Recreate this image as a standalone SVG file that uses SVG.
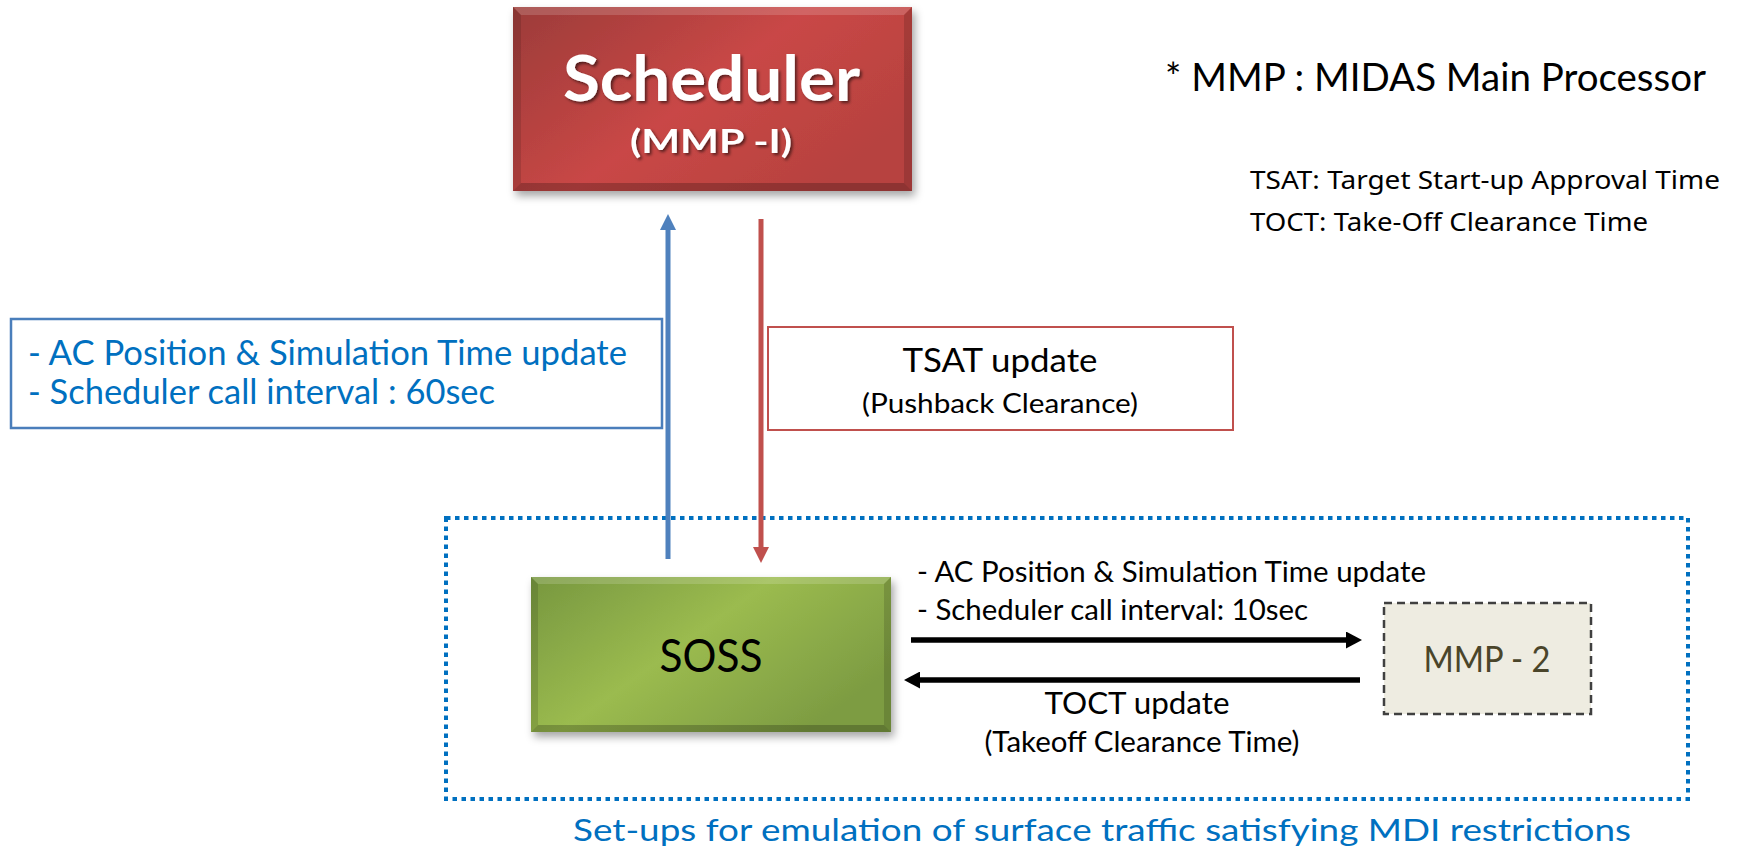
<svg xmlns="http://www.w3.org/2000/svg" width="1737" height="855" viewBox="0 0 1737 855">
<style>
.gill{font-family:Lato,"Open Sans","Liberation Sans",sans-serif;}
.malg{font-family:"Noto Sans","Open Sans","Liberation Sans",sans-serif;fill:#000;font-size:25px;}
.blue{fill:#0070C0;}
.mid{text-anchor:middle;}
.bev-t{fill:#fff;fill-opacity:0.16;}
.bev-l{fill:#000;fill-opacity:0.12;}
.bev-r{fill:#000;fill-opacity:0.14;}
.bev-b{fill:#000;fill-opacity:0.22;}
</style>
<defs>
<linearGradient id="gRed" x1="0" y1="0" x2="1" y2="0.6">
<stop offset="0" stop-color="#9c3c39"/>
<stop offset="0.55" stop-color="#c94746"/>
<stop offset="1" stop-color="#b7423f"/>
</linearGradient>
<linearGradient id="gGreen" x1="0" y1="0" x2="1" y2="0.6">
<stop offset="0" stop-color="#77973f"/>
<stop offset="0.5" stop-color="#9bbb4f"/>
<stop offset="1" stop-color="#7d9c42"/>
</linearGradient>
<filter id="shadow" x="-10%" y="-10%" width="125%" height="140%">
<feDropShadow dx="3" dy="5" stdDeviation="4" flood-color="#000" flood-opacity="0.35"/>
</filter>
<filter id="tshadow" x="-10%" y="-20%" width="120%" height="150%">
<feDropShadow dx="2" dy="2" stdDeviation="1.5" flood-color="#000" flood-opacity="0.55"/>
</filter>
<marker id="aBlue" markerUnits="userSpaceOnUse" markerWidth="16" markerHeight="16" refX="2" refY="8" orient="auto">
<path d="M0,0 L16,8 L0,16 z" fill="#4F81BD"/>
</marker>
<marker id="aRed" markerUnits="userSpaceOnUse" markerWidth="16" markerHeight="16" refX="2" refY="8" orient="auto">
<path d="M0,0 L16,8 L0,16 z" fill="#C0504D"/>
</marker>
<marker id="aBlack" markerUnits="userSpaceOnUse" markerWidth="16" markerHeight="17" refX="2" refY="8.5" orient="auto">
<path d="M0,0 L16,8.5 L0,17 z" fill="#000"/>
</marker>
</defs>
<rect width="1737" height="855" fill="#fff"/>

<g id="setup-frame">
<rect x="446" y="518" width="1242" height="281" fill="none" stroke="#0070C0" stroke-width="4" stroke-dasharray="4.5 4.5"/>
<text class="gill blue" x="573" y="841" font-size="31" textLength="1058" lengthAdjust="spacingAndGlyphs">Set-ups for emulation of surface traffic satisfying MDI restrictions</text>
</g>

<g id="scheduler">
<g filter="url(#shadow)">
<rect x="513" y="7" width="399" height="184" fill="url(#gRed)"/>
</g>
<polygon class="bev-t" points="513,7 912,7 904,15 521,15"/>
<polygon class="bev-l" points="513,7 521,15 521,183 513,191"/>
<polygon class="bev-r" points="912,7 912,191 904,183 904,15"/>
<polygon class="bev-b" points="513,191 521,183 904,183 912,191"/>
<g filter="url(#tshadow)">
<text class="gill mid" x="711.5" y="101" font-size="63" font-weight="700" fill="#fff" textLength="297" lengthAdjust="spacingAndGlyphs">Scheduler</text>
<text class="gill mid" x="711" y="153" font-size="32" font-weight="700" fill="#fff" textLength="162" lengthAdjust="spacingAndGlyphs">(MMP -I)</text>
</g>
</g>

<g id="legend">
<text class="gill" x="1165" y="91" font-size="38" fill="#000" textLength="541" lengthAdjust="spacingAndGlyphs">* MMP : MIDAS Main Processor</text>
<text class="malg" x="1250" y="189" textLength="470" lengthAdjust="spacingAndGlyphs">TSAT: Target Start-up Approval Time</text>
<text class="malg" x="1250" y="231" textLength="398" lengthAdjust="spacingAndGlyphs">TOCT: Take-Off Clearance Time</text>
</g>

<g id="label-up">
<rect x="11" y="319" width="651" height="109" fill="#fff" stroke="#4a7ebb" stroke-width="2.5"/>
<text class="gill blue" x="28" y="365" font-size="35" textLength="599" lengthAdjust="spacingAndGlyphs">- AC Position &amp; Simulation Time update</text>
<text class="gill blue" x="28" y="404" font-size="35" textLength="467" lengthAdjust="spacingAndGlyphs">- Scheduler call interval : 60sec</text>
</g>

<g id="label-down">
<rect x="768" y="327" width="465" height="103" fill="#fff" stroke="#C0504D" stroke-width="2"/>
<text class="gill mid" x="1000" y="372" font-size="33" fill="#000" textLength="195" lengthAdjust="spacingAndGlyphs">TSAT update</text>
<text class="gill mid" x="1000" y="413" font-size="27" fill="#000" textLength="276" lengthAdjust="spacingAndGlyphs">(Pushback Clearance)</text>
</g>

<g id="soss">
<g filter="url(#shadow)">
<rect x="531" y="577" width="360" height="155" fill="url(#gGreen)"/>
</g>
<polygon class="bev-t" points="531,577 891,577 884,584 538,584"/>
<polygon class="bev-l" points="531,577 538,584 538,725 531,732"/>
<polygon class="bev-r" points="891,577 891,732 884,725 884,584"/>
<polygon class="bev-b" points="531,732 538,725 884,725 891,732"/>
<text class="gill mid" x="711" y="672" font-size="46" fill="#000" textLength="103" lengthAdjust="spacingAndGlyphs">SOSS</text>
</g>

<g id="mmp2">
<rect x="1384" y="603" width="207" height="111" fill="#EEECE1" stroke="#404040" stroke-width="2.5" stroke-dasharray="8 5"/>
<text class="gill mid" x="1487" y="672" font-size="37" fill="#4a452a" textLength="127" lengthAdjust="spacingAndGlyphs">MMP - 2</text>
</g>

<g id="arrow-labels">
<text class="gill" x="917" y="582" font-size="28" fill="#000" textLength="509" lengthAdjust="spacingAndGlyphs">- AC Position &amp; Simulation Time update</text>
<text class="gill" x="917" y="620" font-size="28" fill="#000" textLength="391" lengthAdjust="spacingAndGlyphs">- Scheduler call interval: 10sec</text>
<text class="gill mid" x="1137" y="714" font-size="30" fill="#000" textLength="185" lengthAdjust="spacingAndGlyphs">TOCT update</text>
<text class="gill mid" x="1142" y="752" font-size="29" fill="#000" textLength="315" lengthAdjust="spacingAndGlyphs">(Takeoff Clearance Time)</text>
</g>

<g id="connectors" fill="none">
<line x1="668" y1="559" x2="668" y2="228" stroke="#4F81BD" stroke-width="5" marker-end="url(#aBlue)"/>
<line x1="761" y1="219" x2="761" y2="549" stroke="#C0504D" stroke-width="5" marker-end="url(#aRed)"/>
<line x1="911" y1="640" x2="1348" y2="640" stroke="#000" stroke-width="5.5" marker-end="url(#aBlack)"/>
<line x1="1360" y1="680" x2="918" y2="680" stroke="#000" stroke-width="5.5" marker-end="url(#aBlack)"/>
</g>
</svg>
